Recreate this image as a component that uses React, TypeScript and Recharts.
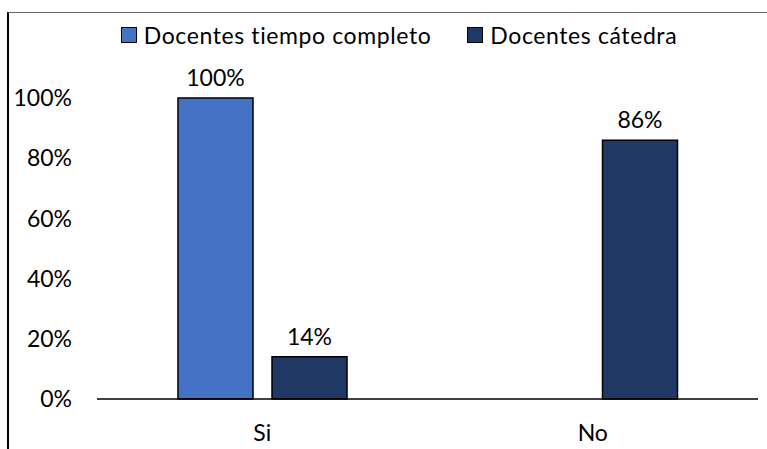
import { BarChart, Bar, XAxis, YAxis, LabelList } from 'recharts'

const categories = ['Si', 'No']
const tiempoCompleto = [1.0, 0]
const catedra = [0.14, 0.86]
const yTicks = [0, 0.2, 0.4, 0.6, 0.8, 1.0]

const SERIES = [
  { key: 'tiempo', label: 'Docentes tiempo completo', color: '#4472C4' },
  { key: 'catedra', label: 'Docentes cátedra', color: '#203864' },
]

const data = categories.map((name, i) => ({ name, tiempo: tiempoCompleto[i], catedra: catedra[i] }))

const FONT = 'Lato, "Open Sans", sans-serif'
const pct = (v: unknown) => (typeof v === 'number' && v > 0 ? `${Math.round(v * 100)}%` : '')

function LegendBox() {
  return (
    <div
      style={{
        position: 'absolute', top: 20, left: 0, width: 798,
        display: 'flex', justifyContent: 'center', gap: 36,
        fontFamily: FONT, fontSize: 23, letterSpacing: 0.6, color: '#000', lineHeight: '30px',
      }}
    >
      {SERIES.map(s => (
        <div key={s.key} style={{ display: 'flex', alignItems: 'center', gap: 7 }}>
          <span style={{ width: 14, height: 14, background: s.color, border: '1.5px solid #000', display: 'inline-block' }} />
          <span>{s.label}</span>
        </div>
      ))}
    </div>
  )
}

export default function App() {
  return (
    <div style={{ position: 'absolute', left: 0, top: 0, width: 767, height: 449, background: '#fff', overflow: 'hidden' }}>
      {/* chart frame, only top + left edges fall inside the crop */}
      <div style={{ position: 'absolute', left: 7, top: 12, width: 800, height: 500, borderLeft: '2px solid #000', borderTop: '1px solid #666' }} />
      <BarChart
        width={767}
        height={449}
        data={data}
        margin={{ top: 98, right: 9, left: 10, bottom: 20 }}
        barGap={19}
        barSize={75}
        style={{ position: 'absolute', left: 0, top: 0 }}
      >
        <XAxis
          dataKey="name"
          height={30}
          axisLine={{ stroke: '#000', strokeWidth: 1.5 }}
          tickLine={false}
          tickMargin={20}
          tick={{ fontSize: 23, fill: '#000', fontFamily: FONT }}
        />
        <YAxis
          width={87}
          domain={[0, 1]}
          ticks={yTicks}
          tickFormatter={(v: number) => `${Math.round(v * 100)}%`}
          axisLine={false}
          tickLine={false}
          tickSize={0}
          tickMargin={25}
          tick={{ fontSize: 23, fill: '#000', fontFamily: FONT }}
        />
        {SERIES.map(s => (
          <Bar key={s.key} dataKey={s.key} name={s.label} fill={s.color} stroke="#000" strokeWidth={1.5} isAnimationActive={false}>
            <LabelList dataKey={s.key} position="top" offset={12} formatter={pct} style={{ fontSize: 23, fill: '#000', fontFamily: FONT }} />
          </Bar>
        ))}
      </BarChart>
      <LegendBox />
    </div>
  )
}
